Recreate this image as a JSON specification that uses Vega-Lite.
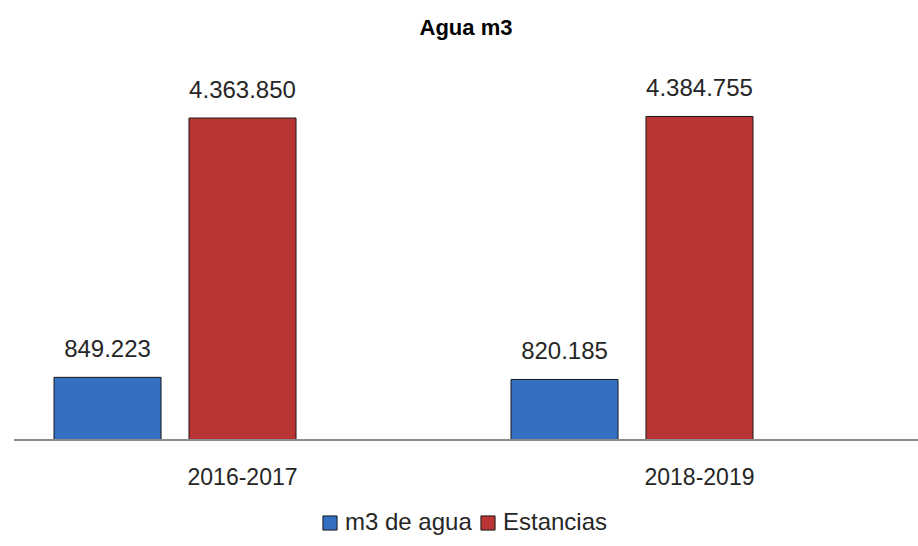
{
  "$schema": "https://vega.github.io/schema/vega-lite/v6.json",
  "width": 904,
  "height": 380,
  "autosize": "none",
  "padding": {"left": 14, "top": 60, "right": 0, "bottom": 106},
  "background": "white",
  "config": {
    "view": {"stroke": null},
    "font": "Liberation Sans",
    "locale": {"number": {"decimal": ",", "thousands": ".", "grouping": [3], "currency": ["", " €"]}}
  },
  "title": {"text": "Agua m3", "fontSize": 22, "fontWeight": "bold", "color": "#000000", "font": "Liberation Sans", "offset": 20, "anchor": "middle"},
  "data": {
    "values": [
      {"periodo": "2016-2017", "serie": "m3 de agua", "valor": 849223},
      {"periodo": "2016-2017", "serie": "Estancias", "valor": 4363850},
      {"periodo": "2018-2019", "serie": "m3 de agua", "valor": 820185},
      {"periodo": "2018-2019", "serie": "Estancias", "valor": 4384755}
    ]
  },
  "encoding": {
    "x": {
      "field": "periodo", "type": "nominal", "title": null,
      "scale": {"range": [5, 909], "paddingInner": 0.175, "paddingOuter": 0.0766},
      "axis": {"domain": false, "ticks": false, "labelAngle": 0, "labelFontSize": 23, "labelColor": "#262626", "labelPadding": 26, "labelFont": "Liberation Sans"}
    },
    "xOffset": {"field": "serie", "type": "nominal", "scale": {"domain": ["m3 de agua", "Estancias", "_hueco"], "paddingInner": 0.207, "paddingOuter": 0}},
    "y": {"field": "valor", "type": "quantitative", "scale": {"domain": [0, 5150000], "nice": false}, "axis": null}
  },
  "layer": [
    {
      "mark": {"type": "bar", "stroke": "#1a1a1a", "strokeWidth": 1, "opacity": 1},
      "encoding": {
        "color": {
          "field": "serie", "type": "nominal",
          "scale": {"domain": ["m3 de agua", "Estancias"], "range": ["#3470c2", "#b93533"]},
          "legend": {
            "title": null, "orient": "none", "direction": "horizontal", "legendX": 304, "legendY": 451,
            "symbolType": "square", "symbolSize": 200, "symbolStrokeColor": "#1a1a1a", "symbolStrokeWidth": 1,
            "labelFontSize": 24, "labelColor": "#262626", "labelFont": "Liberation Sans", "labelOffset": 3,
            "columnPadding": 4, "padding": 0, "symbolOpacity": 1
          }
        }
      }
    },
    {
      "mark": {"type": "text", "baseline": "alphabetic", "dy": -20, "fontSize": 24, "color": "#262626", "font": "Liberation Sans"},
      "encoding": {"text": {"field": "valor", "type": "quantitative", "format": ",d"}}
    },
    {
      "mark": {"type": "rule", "color": "#8c8c8c", "strokeWidth": 1.5},
      "encoding": {"y": {"datum": 0}, "x": null, "xOffset": null}
    }
  ]
}
